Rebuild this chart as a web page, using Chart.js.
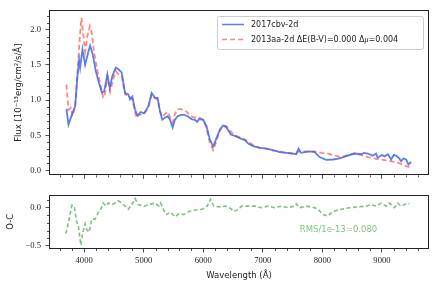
<!DOCTYPE html>
<html>
<head>
<meta charset="utf-8">
<script src="https://cdn.jsdelivr.net/npm/chart.js@4.4.1/dist/chart.umd.min.js"></script>
<style>
html, body { margin: 0; padding: 0; background: #fff; }
#wrap { position: relative; width: 440px; height: 291px; }
canvas { position: absolute; left: 0; }
#topCanvas { top: 0; }
#botCanvas { top: 185px; }
</style>
</head>
<body>
<div id="wrap">
  <canvas id="topCanvas" width="440" height="185"></canvas>
  <canvas id="botCanvas" width="440" height="106"></canvas>
</div>
<script>
// --- data ---
const blueWave = [3703, 3737, 3794, 3849, 3888, 3916, 3933, 3972, 4017, 4072, 4100, 4139, 4196, 4251, 4296, 4335, 4390, 4430, 4474, 4531,
  4586, 4631, 4687, 4742, 4771, 4809, 4854, 4893, 4950, 5005, 5077, 5134, 5189, 5234, 5273, 5312, 5357, 5402, 5441, 5486,
  5524, 5570, 5625, 5680, 5737, 5804, 5859, 5898, 5931, 5998, 6055, 6110, 6166, 6223, 6278, 6333, 6390, 6462, 6529, 6613,
  6697, 6760, 6836, 6948, 7060, 7171, 7283, 7395, 7506, 7562, 7600, 7640, 7785, 7869, 7953, 8065, 8176, 8288, 8427, 8539,
  8651, 8700, 8762, 8846, 8900, 8930, 9000, 9042, 9100, 9154, 9200, 9238, 9290, 9322, 9360, 9406, 9444, 9489];
const blueFlux = [0.875, 0.65, 0.79, 0.91, 1.34, 1.57, 1.46, 1.72, 1.50, 1.69, 1.77, 1.67, 1.41, 1.24, 1.11, 1.12, 1.36, 1.17, 1.34, 1.46,
  1.43, 1.39, 1.10, 1.08, 1.01, 1.05, 0.87, 0.78, 0.83, 0.81, 0.91, 1.10, 1.03, 1.03, 0.84, 0.72, 0.75, 0.77, 0.72, 0.61,
  0.72, 0.77, 0.79, 0.79, 0.77, 0.73, 0.72, 0.69, 0.73, 0.72, 0.63, 0.44, 0.34, 0.46, 0.58, 0.64, 0.61, 0.51, 0.49, 0.46,
  0.43, 0.38, 0.345, 0.32, 0.31, 0.29, 0.26, 0.25, 0.24, 0.23, 0.31, 0.25, 0.27, 0.26, 0.19, 0.15, 0.155, 0.17, 0.21, 0.24,
  0.23, 0.25, 0.24, 0.21, 0.24, 0.18, 0.22, 0.20, 0.23, 0.155, 0.22, 0.21, 0.17, 0.13, 0.17, 0.155, 0.085, 0.12];

const redWave = [3703, 3737, 3777, 3804, 3849, 3888, 3928, 3954, 3983, 4017, 4055, 4095, 4129, 4168, 4223, 4280, 4318, 4352, 4390, 4436,
  4486, 4531, 4586, 4631, 4687, 4742, 4809, 4876, 4921, 5005, 5077, 5134, 5189, 5234, 5273, 5312, 5357, 5402, 5441, 5486,
  5524, 5570, 5625, 5680, 5737, 5804, 5859, 5931, 5998, 6055, 6110, 6166, 6223, 6278, 6333, 6390, 6462, 6529, 6613, 6697,
  6836, 6948, 7060, 7171, 7283, 7395, 7506, 7618, 7730, 7869, 7980, 8092, 8204, 8315, 8427, 8539, 8651, 8762, 8930, 9098,
  9266, 9406, 9489];
const redFlux = [1.22, 0.86, 0.89, 0.77, 0.91, 1.39, 1.91, 2.17, 1.95, 1.69, 1.91, 2.05, 1.95, 1.67, 1.41, 1.20, 1.03, 1.10, 1.34, 1.12,
  1.29, 1.41, 1.36, 1.34, 1.08, 1.06, 1.01, 0.75, 0.79, 0.80, 0.89, 1.08, 1.03, 1.00, 0.84, 0.76, 0.80, 0.83, 0.76, 0.68,
  0.80, 0.87, 0.87, 0.86, 0.82, 0.77, 0.75, 0.75, 0.72, 0.60, 0.40, 0.29, 0.42, 0.57, 0.64, 0.63, 0.55, 0.50, 0.47, 0.44,
  0.36, 0.32, 0.31, 0.28, 0.27, 0.25, 0.24, 0.27, 0.27, 0.27, 0.25, 0.24, 0.21, 0.19, 0.22, 0.24, 0.22, 0.19, 0.16, 0.14,
  0.11, 0.06, 0.04];

const resWave = [3693, 3737, 3794, 3833, 3871, 3905, 3945, 3972, 4017, 4045, 4084, 4129, 4184, 4240, 4280, 4318, 4363, 4407, 4464, 4519,
  4575, 4631, 4687, 4742, 4799, 4854, 4910, 5005, 5089, 5189, 5256, 5284, 5340, 5379, 5452, 5524, 5591, 5675, 5759, 5871,
  5982, 6065, 6122, 6178, 6261, 6374, 6457, 6513, 6596, 6641, 6752, 6864, 6976, 7087, 7199, 7311, 7422, 7534, 7562, 7618,
  7730, 7869, 7925, 8009, 8092, 8176, 8315, 8455, 8595, 8734, 8818, 8902, 8986, 9070, 9126, 9210, 9266, 9322, 9377, 9433,
  9461];
const resVal = [-0.34, -0.19, 0.03, 0.02, -0.17, -0.25, -0.49, -0.34, -0.21, -0.29, -0.32, -0.15, -0.15, -0.06, -0.02, 0.06, 0.02, 0.06, 0.04, 0.06,
  0.09, 0.06, 0.02, -0.02, 0.04, 0.12, 0.04, 0.02, 0.04, 0.06, 0.02, 0.06, -0.04, -0.09, -0.06, -0.12, -0.08, -0.09, -0.05, -0.03,
  -0.02, 0.02, 0.11, 0.02, 0.01, 0.02, -0.01, -0.05, -0.02, 0.02, 0.02, 0.02, 0.0, 0.02, 0.0, 0.02, 0.0, 0.02, 0.05, 0.0,
  0.02, 0.0, -0.02, -0.09, -0.11, -0.05, -0.02, 0.0, 0.01, 0.02, 0.04, 0.02, 0.06, 0.02, 0.06, 0.0, 0.06, 0.02, 0.04, 0.06,
  0.05];

const waveTicks = [4000, 5000, 6000, 7000, 8000, 9000];
const fluxTicks = [0.0, 0.5, 1.0, 1.5, 2.0];
const resTicks = [-0.5, 0.0];

const seriesLabels = ['2017cbv-2d', '2013aa-2d'];
const legendExtra = ['', ' \u0394E(B-V)=0.000 \u0394', '\u03bc', '=0.004'];
const rmsText = 'RMS/1e-13=0.080';

const SERIF = '"Liberation Serif", "DejaVu Serif", serif';
const SANS = '"DejaVu Sans", sans-serif';
const INK = '#222';

const pts = (xs, ys) => xs.map((x, i) => ({ x: x, y: ys[i] }));
const fixTicks = vals => (s => { s.ticks = vals.map(v => ({ value: v })); });

// рамка вокруг области графика
const framePlugin = {
    id: 'frame',
    afterDraw(chart) {
        const a = chart.chartArea, ctx = chart.ctx;
        ctx.save();
        ctx.strokeStyle = INK;
        ctx.lineWidth = 1;
        ctx.strokeRect(Math.round(a.left) + 0.5, Math.round(a.top) + 0.5,
            Math.round(a.width) - 1, Math.round(a.height) - 1);
        ctx.restore();
    }
};

// мелкие засечки (minor ticks) через шкалы
const minorTicksPlugin = {
    id: 'minorTicks',
    afterDraw(chart, args, opts) {
        const a = chart.chartArea, ctx = chart.ctx;
        ctx.save();
        ctx.strokeStyle = INK;
        ctx.lineWidth = 0.8;
        ['x', 'y'].forEach(id => {
            const sc = chart.scales[id];
            const step = opts[id];
            if (!step) return;
            const major = opts[id + 'Major'];
            const n0 = Math.ceil(sc.min / step), n1 = Math.floor(sc.max / step);
            for (let n = n0; n <= n1; n++) {
                const v = n * step;
                const r = v / major;
                if (Math.abs(r - Math.round(r)) < 1e-6) continue;
                const p = Math.round(sc.getPixelForValue(v)) + 0.5;
                ctx.beginPath();
                if (id === 'x') { ctx.moveTo(p, a.bottom); ctx.lineTo(p, a.bottom + 2); }
                else { ctx.moveTo(a.left, p); ctx.lineTo(a.left - 2, p); }
                ctx.stroke();
            }
        });
        ctx.restore();
    }
};

// легенда в правом верхнем углу, как в matplotlib
const boxLegendPlugin = {
    id: 'boxLegend',
    afterDraw(chart) {
        const a = chart.chartArea, ctx = chart.ctx;
        const ds = chart.data.datasets;
        const x0 = a.right - 12, w = 206, y0 = a.top + 6, h = 33;
        const bx = x0 - w + 6;
        ctx.save();
        ctx.fillStyle = 'rgba(255,255,255,0.8)';
        ctx.strokeStyle = '#cccccc';
        ctx.lineWidth = 1;
        ctx.beginPath();
        ctx.roundRect(bx + 0.5, y0 + 0.5, w, h, 2);
        ctx.fill();
        ctx.stroke();
        const rows = [y0 + 8.5, y0 + 23.5];
        ds.forEach((d, i) => {
            ctx.beginPath();
            ctx.strokeStyle = d.borderColor;
            ctx.lineWidth = 1.5;
            ctx.setLineDash(d.borderDash || []);
            ctx.moveTo(bx + 5, rows[i]);
            ctx.lineTo(bx + 27, rows[i]);
            ctx.stroke();
            ctx.setLineDash([]);
            ctx.fillStyle = INK;
            ctx.textBaseline = 'middle';
            ctx.font = '8px ' + SANS;
            let tx = bx + 34;
            ctx.fillText(d.label, tx, rows[i]);
            if (i === 1) {
                tx += ctx.measureText(d.label).width;
                ctx.fillText(legendExtra[1], tx, rows[i]);
                tx += ctx.measureText(legendExtra[1]).width;
                ctx.font = 'italic 8px ' + SERIF;
                ctx.fillText(legendExtra[2], tx, rows[i]);
                tx += ctx.measureText(legendExtra[2]).width;
                ctx.font = '8px ' + SANS;
                ctx.fillText(legendExtra[3], tx, rows[i]);
            }
        });
        ctx.restore();
    }
};

const rmsPlugin = {
    id: 'rmsText',
    afterDraw(chart) {
        const a = chart.chartArea, ctx = chart.ctx;
        ctx.save();
        ctx.fillStyle = 'rgba(0,128,0,0.5)';
        ctx.font = '8.5px ' + SANS;
        ctx.textAlign = 'center';
        ctx.textBaseline = 'middle';
        ctx.fillText(rmsText, a.right - 90.5, a.top + 35);
        ctx.restore();
    }
};

const tickFont = { family: SERIF, size: 8.6 };
const majorGrid = { drawOnChartArea: false, drawTicks: true, tickLength: 3.5, tickColor: INK, lineWidth: 0.8 };

function fmt(v) {
    const s = Math.abs(v).toFixed(1);
    return v < -1e-9 ? '\u2212' + s : s;
}

// --- верхняя панель: спектры ---
new Chart(document.getElementById('topCanvas').getContext('2d'), {
    type: 'line',
    data: {
        datasets: [
            {
                label: seriesLabels[0],
                data: pts(blueWave, blueFlux),
                borderColor: 'rgba(65,105,225,0.85)',
                borderWidth: 1.8
            },
            {
                label: seriesLabels[1],
                data: pts(redWave, redFlux),
                borderColor: 'rgba(255,50,50,0.6)',
                borderWidth: 1.8,
                borderDash: [5, 3]
            }
        ]
    },
    options: {
        responsive: false,
        animation: false,
        devicePixelRatio: 1,
        layout: { padding: { top: 10, right: 11, left: 0, bottom: 0 } },
        elements: { point: { radius: 0 }, line: { tension: 0 } },
        plugins: {
            legend: { display: false },
            tooltip: { enabled: false },
            minorTicks: { x: 200, xMajor: 1000, y: 0.1, yMajor: 0.5 }
        },
        scales: {
            x: {
                type: 'linear',
                min: 3410, max: 9790,
                ticks: { display: false },
                afterBuildTicks: fixTicks(waveTicks),
                grid: majorGrid,
                border: { display: false },
                afterFit: s => { s.height = 9; }
            },
            y: {
                min: -0.07, max: 2.28,
                ticks: { font: tickFont, color: INK, padding: 4.5, callback: v => fmt(v) },
                afterBuildTicks: fixTicks(fluxTicks),
                grid: majorGrid,
                border: { display: false },
                title: {
                    display: true,
                    text: 'Flux [10\u207b\u00b9\u00b3erg/cm\u00b2/s/\u00c5]',
                    font: { family: SANS, size: 8.5 },
                    color: INK,
                    padding: { top: 14, bottom: 0 }
                },
                afterFit: s => { s.width = 49; }
            }
        }
    },
    plugins: [framePlugin, minorTicksPlugin, boxLegendPlugin]
});

// --- нижняя панель: O-C ---
new Chart(document.getElementById('botCanvas').getContext('2d'), {
    type: 'line',
    data: {
        datasets: [{
            label: 'O-C',
            data: pts(resWave, resVal),
            borderColor: 'rgba(0,128,0,0.5)',
            borderWidth: 1.6,
            borderDash: [4, 2.5]
        }]
    },
    options: {
        responsive: false,
        animation: false,
        devicePixelRatio: 1,
        layout: { padding: { top: 8, right: 11, left: 0, bottom: 0 } },
        elements: { point: { radius: 0 }, line: { tension: 0 } },
        plugins: {
            legend: { display: false },
            tooltip: { enabled: false },
            minorTicks: { x: 200, xMajor: 1000, y: 0.1, yMajor: 0.5 }
        },
        scales: {
            x: {
                type: 'linear',
                min: 3410, max: 9790,
                ticks: { font: tickFont, color: INK, padding: 3.5, maxRotation: 0, autoSkip: false, callback: v => String(v) },
                afterBuildTicks: fixTicks(waveTicks),
                grid: majorGrid,
                border: { display: false },
                title: {
                    display: true,
                    text: 'Wavelength (\u00c5)',
                    font: { family: SANS, size: 8.5 },
                    color: INK,
                    padding: { top: 0, bottom: 10 }
                },
                afterFit: s => { s.height = 42; }
            },
            y: {
                min: -0.54, max: 0.17,
                ticks: { font: tickFont, color: INK, padding: 4.5, callback: v => fmt(v) },
                afterBuildTicks: fixTicks(resTicks),
                grid: majorGrid,
                border: { display: false },
                title: {
                    display: true,
                    text: 'O-C',
                    font: { family: SANS, size: 8.5 },
                    color: INK,
                    padding: { top: 6, bottom: 0 }
                },
                afterFit: s => { s.width = 49; }
            }
        }
    },
    plugins: [framePlugin, minorTicksPlugin, rmsPlugin]
});
</script>
</body>
</html>
